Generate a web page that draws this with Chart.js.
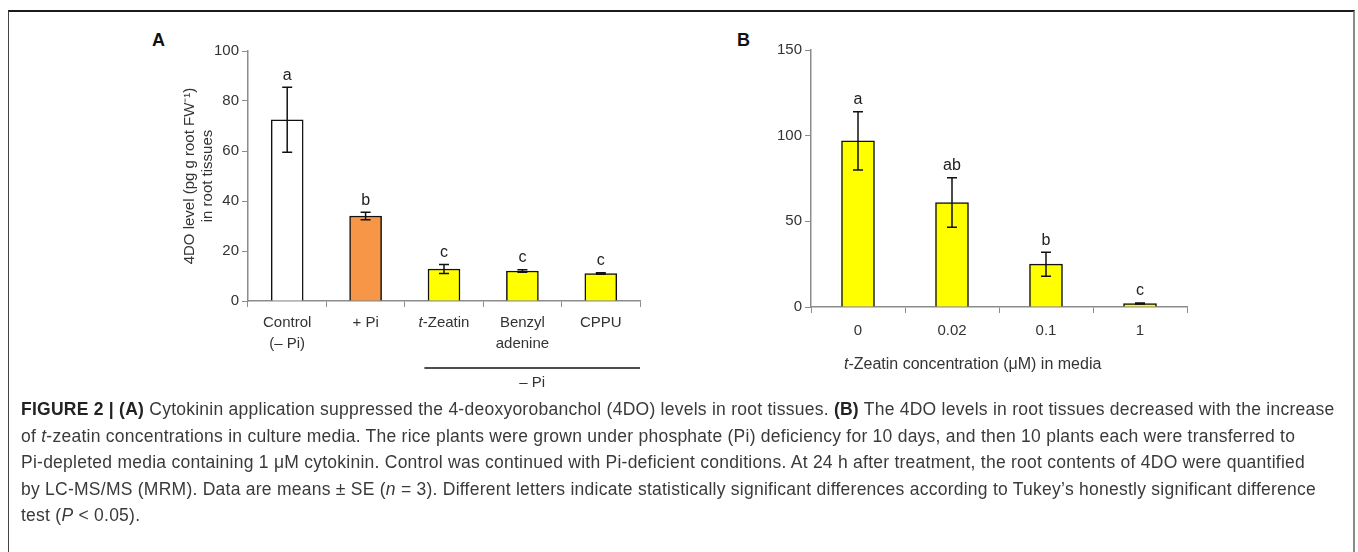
<!DOCTYPE html>
<html>
<head>
<meta charset="utf-8">
<script src="https://cdn.jsdelivr.net/npm/chart.js@4.4.1/dist/chart.umd.min.js"></script>
<style>
body { margin:0; width:1358px; height:552px; background:#fff; overflow:hidden; font-family:"Liberation Sans", Arial, sans-serif; }
#frame { position:absolute; left:8px; top:10px; width:1344px; height:560px; border-top:2px solid #1b1b1b; border-left:1px solid #444; border-right:2px solid #8a8a8a; }
.panel { position:absolute; }
.tag { position:absolute; font-weight:bold; font-size:18px; color:#111; }
#caption { position:absolute; left:21px; top:396px; font-size:17.5px; letter-spacing:0.25px; line-height:26.6px; color:#3a3a3a; white-space:nowrap; }
#caption b { color:#222; }
</style>
</head>
<body>
<div id="frame"></div>
<div class="tag" style="left:152px; top:30px;">A</div>
<div class="tag" style="left:737px; top:30px;">B</div>
<div class="panel" style="left:140px; top:20px; width:520px; height:380px;"><canvas id="chartA"></canvas></div>
<div class="panel" style="left:760px; top:20px; width:440px; height:380px;"><canvas id="chartB"></canvas></div>
<div id="caption">
<div><b>FIGURE 2 | (A)</b> Cytokinin application suppressed the 4-deoxyorobanchol (4DO) levels in root tissues. <b>(B)</b> The 4DO levels in root tissues decreased with the increase</div>
<div>of <i>t</i>-zeatin concentrations in culture media. The rice plants were grown under phosphate (Pi) deficiency for 10 days, and then 10 plants each were transferred to</div>
<div>Pi-depleted media containing 1 μM cytokinin. Control was continued with Pi-deficient conditions. At 24 h after treatment, the root contents of 4DO were quantified</div>
<div>by LC-MS/MS (MRM). Data are means ± SE (<i>n</i> = 3). Different letters indicate statistically significant differences according to Tukey’s honestly significant difference</div>
<div>test (<i>P</i> &lt; 0.05).</div>
</div>

<script>
// ==========================================================
// DATA
// ==========================================================

// Panel A : treatments (italic parts between underscores)
const catsA = [["Control", "(– Pi)"], ["+ Pi"], ["_t_-Zeatin"], ["Benzyl", "adenine"], ["CPPU"]];
const valuesA = [72.5, 34, 12.8, 12, 11];
const errorsA = [13, 1.5, 1.8, 0.5, 0.3];
const lettersA = ["a", "b", "c", "c", "c"];
const colorsA = ["#ffffff", "#f79646", "#ffff00", "#ffff00", "#ffff00"];
const yTitleA = ["4DO level (pg g root FW⁻¹)", "in root tissues"];
const groupLabelA = "– Pi";

// Panel B : t-zeatin concentration
const catsB = [["0"], ["0.02"], ["0.1"], ["1"]];
const valuesB = [97, 61, 25, 2];
const errorsB = [17, 14.5, 7, 0.3];
const lettersB = ["a", "ab", "b", "c"];
const xTitleB = "_t_-Zeatin concentration (μM) in media";

Chart.defaults.font.family = "'Liberation Sans', Arial, sans-serif";
Chart.defaults.color = "#333";

const axisGray = "#8c8c8c";


// ==========================================================
// HELPERS
// ==========================================================

// draws text centred on x, parts between "_" in italic
function drawRich(ctx, text, cx, y, size)
{
    const parts = text.split("_");
    let total = 0;
    parts.forEach((p, i) => {
        ctx.font = (i % 2 ? "italic " : "") + size + "px 'Liberation Sans', Arial, sans-serif";
        total += ctx.measureText(p).width;
    });
    let x = cx - total / 2;
    ctx.textAlign = "left";
    parts.forEach((p, i) => {
        ctx.font = (i % 2 ? "italic " : "") + size + "px 'Liberation Sans', Arial, sans-serif";
        ctx.fillText(p, x, y);
        x += ctx.measureText(p).width;
    });
}

// error bars, significance letters, category labels
const annotPlugin =
{
    id: "annot",
    afterDatasetsDraw(chart, args, opts)
    {
        const ctx = chart.ctx;
        const xs = chart.scales.x;
        const ys = chart.scales.y;
        const vals = chart.data.datasets[0].data;

        ctx.save();
        ctx.strokeStyle = "#111";
        ctx.fillStyle = "#222";
        ctx.lineWidth = 1.5;

        vals.forEach((v, i) =>
        {
            const x = xs.getPixelForValue(i);
            const hi = ys.getPixelForValue(v + opts.errors[i]);
            const lo = ys.getPixelForValue(Math.max(0, v - opts.errors[i]));

            ctx.beginPath();
            ctx.moveTo(x, hi); ctx.lineTo(x, lo);
            ctx.moveTo(x - 5, hi); ctx.lineTo(x + 5, hi);
            ctx.moveTo(x - 5, lo); ctx.lineTo(x + 5, lo);
            ctx.stroke();

            ctx.textBaseline = "bottom";
            drawRich(ctx, opts.letters[i], x, hi - 4, 16);
        });

        // category labels under the axis
        ctx.textBaseline = "middle";
        ctx.fillStyle = "#333";
        opts.labels.forEach((lines, i) =>
        {
            const x = xs.getPixelForValue(i);
            lines.forEach((ln, k) => drawRich(ctx, ln, x, xs.top + opts.labelY + k * 21, 15));
        });

        // "- Pi" bracket line (panel A)
        if (opts.group)
        {
            const w = xs.getPixelForValue(1) - xs.getPixelForValue(0);
            const x0 = xs.getPixelForValue(opts.group.from) - w * 0.25;
            const x1 = xs.getPixelForValue(opts.group.to) + w * 0.5;
            ctx.strokeStyle = "#111";
            ctx.lineWidth = 1.5;
            ctx.beginPath();
            ctx.moveTo(x0, xs.top + 67); ctx.lineTo(x1, xs.top + 67);
            ctx.stroke();
            drawRich(ctx, opts.group.text, (x0 + x1) / 2, xs.top + 82, 15);
        }

        // axis title (panel B)
        if (opts.xTitle)
        {
            const cx = xs.left + (xs.right - xs.left) * 0.43;
            drawRich(ctx, opts.xTitle, cx, xs.top + 58, 16);
        }
        ctx.restore();
    }
};


// ==========================================================
// CHART BUILDER
// ==========================================================

function makeChart(id, cfg)
{
    return new Chart(document.getElementById(id),
    {
        type: "bar",
        data: {
            labels: cfg.cats.map(c => c.join(" ")),
            datasets: [{
                data: cfg.values,
                backgroundColor: cfg.colors,
                borderColor: "#111",
                borderWidth: 1.5,
                barThickness: cfg.barWidth
            }]
        },
        options: {
            responsive: true,
            maintainAspectRatio: false,
            animation: false,
            layout: { padding: cfg.padding },
            plugins: {
                legend: { display: false },
                tooltip: { enabled: false },
                annot: {
                    errors: cfg.errors,
                    letters: cfg.letters,
                    labels: cfg.cats,
                    labelY: cfg.labelY,
                    group: cfg.group,
                    xTitle: cfg.xTitle
                }
            },
            scales: {
                x: {
                    grid: { drawOnChartArea: false, tickLength: 6, color: axisGray, offset: true },
                    border: { color: axisGray, width: 1.5 },
                    ticks: { display: false },
                    afterFit: s => { s.height = cfg.xHeight; }
                },
                y: {
                    min: 0,
                    max: cfg.yMax,
                    ticks: { stepSize: cfg.yStep, font: { size: 15 }, color: "#333", padding: 3 },
                    grid: { drawOnChartArea: false, tickLength: 6, color: axisGray },
                    border: { color: axisGray, width: 1.5 },
                    title: cfg.yTitle
                        ? { display: true, text: cfg.yTitle, font: { size: 15 }, color: "#333", padding: { top: 41, bottom: 0 } }
                        : { display: false },
                    afterFit: s => { s.width = cfg.yWidth; }
                }
            }
        },
        plugins: [annotPlugin]
    });
}


// ==========================================================
// ENTRY POINT
// ==========================================================

makeChart("chartA", {
    cats: catsA, values: valuesA, errors: errorsA, letters: lettersA, colors: colorsA,
    yMax: 100, yStep: 20, yTitle: yTitleA, yWidth: 108, xHeight: 99,
    padding: { top: 31, right: 20, left: 0, bottom: 0 },
    barWidth: 32, labelY: 22,
    group: { from: 2, to: 4, text: groupLabelA }
});

makeChart("chartB", {
    cats: catsB, values: valuesB, errors: errorsB, letters: lettersB, colors: "#ffff00",
    yMax: 150, yStep: 50, yTitle: null, yWidth: 51, xHeight: 93,
    padding: { top: 30, right: 13, left: 0, bottom: 0 },
    barWidth: 33, labelY: 24,
    xTitle: xTitleB
});
</script>
</body>
</html>
